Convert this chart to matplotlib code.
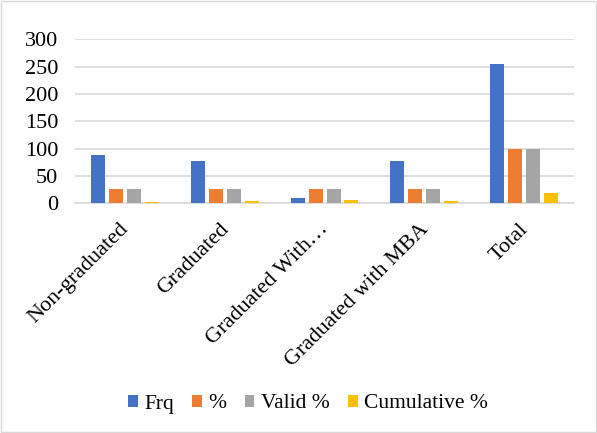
import numpy as np
import matplotlib.pyplot as plt
import matplotlib.transforms as mtransforms
from matplotlib.patches import Rectangle

categories = ['Non-graduated', 'Graduated', 'Graduated With\u2026', 'Graduated with MBA', 'Total']
frq = [88, 77, 10, 77, 255]
pct = [25, 25, 25, 25, 100]
valid_pct = [25, 25, 25, 25, 100]
cum_pct = [1.5, 3, 6, 3.5, 18]

series = [('Frq', frq, '#4472C4'), ('%', pct, '#ED7D31'),
          ('Valid %', valid_pct, '#A5A5A5'), ('Cumulative %', cum_pct, '#FFC000')]

plt.rcParams['font.family'] = ['Liberation Serif', 'DejaVu Serif']

fig = plt.figure(figsize=(5.97, 4.33), dpi=100)
ax = fig.add_axes([0.1256, 0.531, 0.836, 0.378])

x = np.arange(len(categories))
w = 0.14
step = 0.18
for i, (name, vals, col) in enumerate(series):
    ax.bar(x + (i - 1.5) * step, vals, w, color=col, label=name, zorder=3)

ax.set_xlim(-0.5, len(categories) - 0.5)
ax.set_ylim(0, 300)
ax.set_yticks(range(0, 301, 50))
ax.yaxis.grid(True, color='#d9d9d9', linewidth=1.2, zorder=0)
for s in ['top', 'right', 'left']:
    ax.spines[s].set_visible(False)
ax.spines['bottom'].set_color('#d9d9d9')
ax.spines['bottom'].set_linewidth(1.2)
ax.tick_params(axis='both', length=0, labelsize=16, colors='black')
ax.tick_params(axis='y', pad=12)
ax.tick_params(axis='x', pad=12)
ax.set_xticks(x)
ax.set_xticklabels(categories, rotation=45, ha='right', rotation_mode='anchor')

# nudge the slanted category labels a little to the left
shift = mtransforms.ScaledTranslation(-4 / 72, 0, fig.dpi_scale_trans)
for lbl in ax.get_xticklabels():
    lbl.set_transform(lbl.get_transform() + shift)

fig.legend(loc='center', bbox_to_anchor=(0.516, 1 - 404 / 433), ncol=4,
           frameon=False, fontsize=15.5, handlelength=0.45, handleheight=0.45,
           handletextpad=0.3, columnspacing=0.85)

# light border around the whole figure
fig.patches.append(Rectangle((0.002, 0.002), 0.996, 0.996, transform=fig.transFigure,
                             fill=False, edgecolor='#d9d9d9', linewidth=1))

fig.savefig('out.png', dpi=100)
